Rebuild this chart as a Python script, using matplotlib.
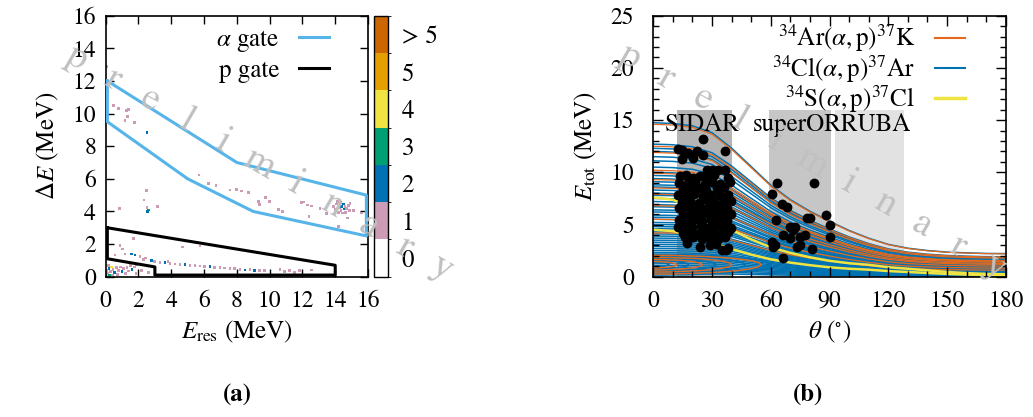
import numpy as np
import matplotlib
matplotlib.use("Agg")
import matplotlib.pyplot as plt
from matplotlib.colors import ListedColormap, BoundaryNorm
from matplotlib.patches import Ellipse
from matplotlib.cm import ScalarMappable
from matplotlib.ticker import MultipleLocator

plt.rcParams['font.family'] = ['STIXGeneral', 'DejaVu Serif']
plt.rcParams['mathtext.fontset'] = 'stix'
plt.rcParams['font.size'] = 18
plt.rcParams['xtick.labelsize'] = 17
plt.rcParams['ytick.labelsize'] = 17

# ---------- (a) dE-E histogram ----------
# (E_res, dE, counts)
hist_x = [0.05, 0.46, 0.77, 1.28, 1.38, 1.34, 1.18, 1.74, 2.52,
          5.69, 6.26, 6.73, 7.58, 7.99, 8.3, 8.7, 9.3, 9.77, 9.98, 9.4, 10.52, 10.8,
          11.95, 12.1, 12.3, 12.56, 12.4, 13.07, 13.48,
          13.9, 14.0, 14.1, 14.2, 14.25, 14.3, 14.35, 14.4, 14.45, 14.5, 14.55, 14.6,
          14.65, 14.7, 14.8, 14.85, 14.75, 14.2, 15.1, 15.6, 14.9, 14.15,
          2.48, 2.34, 2.52, 3.17, 2.6, 2.55, 0.85,
          1.68, 0.87, 1.01, 4.7, 5.75, 0.57, 1.18, 1.59, 1.79, 2.09, 2.3, 2.8, 3.0,
          3.31, 3.62, 3.92, 4.23, 4.53, 4.84, 5.14, 5.45, 5.75, 6.05, 6.36, 6.66,
          6.97, 7.27, 7.58, 7.88, 8.19, 8.5, 8.8, 9.1, 9.4, 9.7, 10.63, 10.93,
          11.2, 11.5, 11.8, 12.56, 2.45, 3.8,
          0.1, 0.2, 0.3, 0.4, 0.45, 0.55, 0.65, 0.7, 0.8, 0.9, 1.0, 1.1, 1.2, 1.3,
          1.4, 1.5, 1.6, 1.75, 1.9, 0.15, 0.25, 0.05, 2.2, 2.6, 0.35, 1.85]
hist_y = [12.9, 10.5, 10.33, 10.2, 10.25, 9.8, 9.57, 9.47, 8.83,
          6.24, 5.73, 5.58, 5.32, 5.36, 5.26, 5.15, 4.6, 4.87, 4.6, 4.44, 4.1, 4.02,
          4.56, 4.58, 4.4, 4.34, 3.68, 4.17, 3.89,
          4.3, 4.1, 4.45, 3.95, 4.25, 4.55, 4.05, 4.3, 3.9, 4.45, 4.15, 4.3,
          3.95, 4.2, 4.35, 4.05, 3.6, 3.07, 4.05, 3.9, 4.5, 4.6,
          5.28, 4.7, 4.26, 4.32, 4.09, 4.0, 4.2,
          2.33, 1.93, 1.7, 1.82, 1.88, 1.33, 1.39, 1.39, 1.33, 1.23, 1.07, 0.98, 0.92,
          0.88, 0.86, 0.82, 0.78, 0.76, 0.74, 0.70, 0.68, 0.66, 0.61, 0.61, 0.58,
          0.56, 0.53, 0.51, 0.49, 0.45, 0.41, 0.45, 0.37, 0.4, 0.37, 0.45, 0.31,
          0.37, 0.25, 0.37, 0.41, 1.15, 0.95,
          0.2, 0.5, 0.3, 0.1, 0.45, 0.25, 0.55, 0.15, 0.4, 0.6, 0.3, 0.5, 0.2, 0.55,
          0.35, 0.7, 0.45, 0.6, 0.75, 0.7, 0.05, 0.4, 0.4, 0.25, 0.6, 0.2]
hist_n = [1, 1, 1, 1, 1, 1, 1, 1, 2,
          1, 1, 1, 1, 1, 1, 1, 1, 1, 1, 1, 1, 1,
          1, 1, 1, 1, 1, 1, 1,
          1, 1, 1, 1, 1, 2, 1, 2, 1, 2, 2, 1,
          1, 1, 1, 1, 1, 1, 1, 1, 1, 1,
          1, 1, 1, 1, 3, 2, 1,
          1, 1, 1, 1, 1, 1, 1, 2, 2, 1, 1, 2, 1,
          1, 2, 1, 1, 1, 2, 1, 1, 1, 1, 2, 1,
          1, 1, 1, 1, 1, 2, 1, 2, 1, 1, 1, 1,
          1, 1, 1, 1, 1, 1,
          1, 2, 1, 1, 1, 2, 1, 1, 1, 1, 2, 1, 1, 1,
          1, 1, 2, 1, 1, 1, 3, 1, 1, 1, 4, 1]

alpha_gate_x = [0.1, 8.0, 15.9, 15.9, 9.0, 5.0, 0.1, 0.1]
alpha_gate_y = [12.0, 7.0, 5.0, 2.5, 4.0, 6.0, 9.5, 12.0]
p_gate_x = [0.1, 14.0, 14.0, 3.0, 3.0, 0.1, 0.1]
p_gate_y = [3.0, 0.7, 0.1, 0.1, 0.6, 1.1, 3.0]

cbar_labels = ['0', '1', '2', '3', '4', '5', '> 5']
cbar_colors = ['#ffffff', '#cc9bb5', '#0072b2', '#009e73', '#f0e442', '#e69f00', '#cc6600']

# ---------- (b) kinematics ----------
theta_grid = [0, 10, 20, 30, 40, 50, 60, 70, 80, 90, 100, 110, 120, 130, 140, 150, 160, 170, 180]
shape_hi = [1.0, 0.995, 0.98, 0.935, 0.835, 0.715, 0.595, 0.5, 0.425, 0.36, 0.30, 0.25,
            0.21, 0.185, 0.17, 0.16, 0.155, 0.151, 0.15]
shape_lo = [1.0, 0.97, 0.87, 0.73, 0.59, 0.47, 0.37, 0.3, 0.245, 0.2, 0.17, 0.15,
            0.12, 0.1, 0.08, 0.06, 0.045, 0.035, 0.03]

e0_ar = [14.6, 12.5, 11.9, 10.2, 9.9, 9.3, 8.5, 7.9, 6.8, 5.5, 4.2]
e0_cl = [14.75, 12.7, 12.3, 12.0, 11.5, 11.1, 10.5, 10.0, 9.7, 9.4, 9.1, 8.8, 8.6, 8.3,
         8.0, 7.8, 7.5, 7.2, 6.9, 6.7, 6.4, 6.2, 5.9, 5.7, 5.5, 5.2, 5.0, 4.8, 4.6,
         4.3, 4.1, 3.9, 3.7, 3.5, 3.3, 3.1, 2.9, 2.7, 2.5, 2.3, 2.1, 1.9, 1.7, 1.5, 1.3,
         1.1, 0.9, 0.7, 0.5, 0.3]
e0_s = [7.6, 4.5]

loop_w_ar = [24, 50, 80, 110]
loop_h_ar = [0.6, 1.0, 1.4, 1.8]
loop_w_cl = [16, 36, 64, 94, 120]
loop_h_cl = [0.4, 0.8, 1.2, 1.6, 2.0]

det_lo = [12, 59, 93]
det_hi = [40, 91, 128]
det_top = [16, 16, 16]
det_color = ['#b5b5b5', '#c6c6c6', '#e2e2e2']

data_theta = [25.5, 12.8, 14.5, 17.9, 22.2, 25.5, 14.5, 20.4, 36.6, 27.3, 33.2, 36.6, 29.8,
              13.5, 16.5, 20.2, 24.1, 28.0, 31.2, 38.0,
              13.1, 17.6, 21.4, 26.2, 30.1, 34.0, 39.1,
              15.0, 19.1, 23.2, 27.0, 32.3, 36.1,
              12.8, 17.1, 21.0, 25.2, 29.5, 34.2, 38.3,
              14.6, 19.0, 23.1, 27.2, 31.0, 35.5, 39.5,
              13.0, 17.2, 21.5, 25.6, 29.1, 33.0, 37.5,
              15.1, 19.6, 23.4, 27.6, 31.5, 36.0, 39.5,
              13.0, 17.5, 21.2, 25.0, 29.4, 33.6, 37.4,
              12.8, 16.1, 20.0, 24.2, 28.1, 32.0, 36.2, 39.6,
              15.0, 19.2, 23.0, 27.1, 30.5, 35.0, 38.1,
              16.2, 20.3, 25.0, 29.2, 33.1, 36.6,
              17.0, 23.8, 29.0, 32.0, 38.3, 34.9, 37.0,
              63.3, 82.2, 60.5, 65.6, 68.1, 62.5, 78.3, 80.0, 88.2, 90.2, 90.2, 69.8,
              72.4, 71.5, 66.4, 69.8, 74.9, 77.5, 60.5, 62.2, 61.3, 73.2, 74.9, 80.9, 66.4]
data_e = [13.15, 12.26, 12.17, 11.88, 12.0, 11.62, 11.3, 11.4, 12.04, 10.19, 10.19, 10.19, 10.2,
          9.6, 9.7, 9.5, 9.65, 9.55, 9.7, 9.5,
          9.0, 8.95, 9.1, 8.9, 9.05, 8.9, 9.07,
          8.4, 8.35, 8.5, 8.3, 8.45, 8.6,
          7.8, 7.75, 7.9, 7.7, 7.85, 7.8, 7.8,
          7.2, 7.25, 7.1, 7.3, 7.15, 7.2, 7.25,
          6.6, 6.55, 6.7, 6.5, 6.65, 6.6, 6.53,
          6.0, 6.05, 5.9, 6.1, 5.95, 6.0, 6.05,
          5.4, 5.35, 5.5, 5.3, 5.45, 5.4, 5.35,
          4.8, 4.85, 4.75, 4.9, 4.7, 4.85, 4.8, 4.62,
          4.2, 4.25, 4.1, 4.3, 4.15, 4.2, 4.25,
          3.82, 3.82, 3.65, 3.75, 3.6, 3.82,
          3.2, 2.87, 3.03, 3.1, 2.71, 2.55, 2.6,
          8.98, 9.02, 7.96, 7.01, 6.63, 5.42, 5.58, 5.58, 5.89, 5.0, 3.82, 4.72,
          4.72, 4.5, 3.98, 3.67, 3.82, 3.98, 3.34, 3.03, 2.87, 2.87, 3.03, 2.65, 1.76]

c_orange = '#e5691c'
c_blue = '#0072b2'
c_yellow = '#f0e442'

W, H = 1033, 417
fig = plt.figure(figsize=(W / 100, H / 100), dpi=100)

ax1 = fig.add_axes([105.7 / W, 1 - 276.7 / H, 262.3 / W, 261 / H])
cax = fig.add_axes([374.3 / W, 1 - 276.7 / H, 13.4 / W, 261 / H])
ax2 = fig.add_axes([653.3 / W, 1 - 276.7 / H, 352.4 / W, 261 / H])

# --- panel (a)
cmap = ListedColormap(cbar_colors)
norm = BoundaryNorm(np.arange(-0.5, 7.5, 1), cmap.N)
ax1.scatter(hist_x, hist_y, c=hist_n, cmap=cmap, norm=norm, marker='s', s=4,
            linewidths=0, zorder=2)
ax1.plot(alpha_gate_x, alpha_gate_y, color='#56b4e9', lw=2.2, label=r'$\alpha$ gate', zorder=3)
ax1.plot(p_gate_x, p_gate_y, color='black', lw=2.2, label='p gate', zorder=3)
ax1.set_xlim(0, 16)
ax1.set_ylim(0, 16)
ax1.xaxis.set_major_locator(MultipleLocator(2))
ax1.yaxis.set_major_locator(MultipleLocator(2))
ax1.tick_params(direction='in', top=True, right=True, length=6, width=1, pad=7)
ax1.tick_params(axis='x', pad=10)
ax1.set_xlabel(r'$E_{\mathrm{res}}$ (MeV)', labelpad=5)
ax1.set_ylabel(r'$\Delta E$ (MeV)', labelpad=8)
ax1.legend(loc='upper right', bbox_to_anchor=(0.9, 1.0), frameon=False, markerfirst=False,
           handlelength=1.2, borderaxespad=0.1, labelspacing=0.2)

cb = fig.colorbar(ScalarMappable(norm=norm, cmap=cmap), cax=cax, ticks=range(7))
cb.ax.set_yticklabels(cbar_labels, fontsize=18)
cb.ax.tick_params(length=0, pad=10)
cb.outline.set_linewidth(1)

# --- panel (b)
for lo, hi, top, col in zip(det_lo, det_hi, det_top, det_color):
    ax2.fill_between([lo, hi], 0, top, color=col, lw=0, zorder=0)

for e0 in e0_cl:
    ax2.plot(theta_grid, np.array(shape_hi) * e0, color=c_blue, lw=1.1, zorder=1)
for e0 in e0_ar:
    ax2.plot(theta_grid, np.array(shape_hi) * e0, color=c_orange, lw=0.9, zorder=1.1)
for e0 in e0_s:
    ax2.plot(theta_grid, np.array(shape_lo) * e0, color=c_yellow, lw=1.8, zorder=1.2)

for w, h in zip(loop_w_cl, loop_h_cl):
    ax2.add_patch(Ellipse((0, 1.15), w, h, fill=False, ec=c_blue, lw=1.1, zorder=1.5))
for w, h in zip(loop_w_ar, loop_h_ar):
    ax2.add_patch(Ellipse((0, 1.15), w, h, fill=False, ec=c_orange, lw=1.0, zorder=1.5))

ax2.scatter(data_theta, data_e, s=50, color='black', zorder=4, linewidths=0)

ax2.plot([], [], color=c_orange, lw=1.5, label=r'$^{34}$Ar$(\alpha,\mathrm{p})^{37}$K')
ax2.plot([], [], color=c_blue, lw=1.5, label=r'$^{34}$Cl$(\alpha,\mathrm{p})^{37}$Ar')
ax2.plot([], [], color=c_yellow, lw=2.5, label=r'$^{34}$S$(\alpha,\mathrm{p})^{37}$Cl')
ax2.legend(loc='upper right', bbox_to_anchor=(0.92, 1.02), frameon=False, markerfirst=False,
           handlelength=1.2, borderaxespad=0.1, labelspacing=-0.05)

ax2.text(6, 14.5, 'SIDAR', va='center', ha='left', zorder=5)
ax2.text(51, 14.5, 'superORRUBA', va='center', ha='left', zorder=5)

ax2.set_xlim(0, 180)
ax2.set_ylim(0, 25)
ax2.xaxis.set_major_locator(MultipleLocator(30))
ax2.xaxis.set_minor_locator(MultipleLocator(10))
ax2.yaxis.set_major_locator(MultipleLocator(5))
ax2.yaxis.set_minor_locator(MultipleLocator(1))
ax2.tick_params(which='both', direction='in', top=True, right=True, width=1)
ax2.tick_params(which='major', length=7, pad=14)
ax2.tick_params(which='minor', length=4)
ax2.tick_params(axis='x', which='major', pad=10)
ax2.set_xlabel(r'$\theta$ ($^{\circ}$)', labelpad=5)
ax2.set_ylabel(r'$E_{\mathrm{tot}}$ (MeV)', labelpad=8)

for ax in (ax1, ax2):
    for s in ax.spines.values():
        s.set_linewidth(1.2)

# watermark
for x0, y0 in [(77, 58), (630, 57)]:
    for k, ch in enumerate('preliminary'):
        fig.text((x0 + 36.5 * k) / W, 1 - (y0 + 21 * k) / H, ch, rotation=-30,
                 ha='center', va='center', fontsize=28, color='#c0c0c0', zorder=10)

fig.text(237 / W, 1 - 395 / H, '(a)', ha='center', va='center', fontweight='bold')
fig.text(808 / W, 1 - 395 / H, '(b)', ha='center', va='center', fontweight='bold')

fig.savefig('out.png', dpi=100)
